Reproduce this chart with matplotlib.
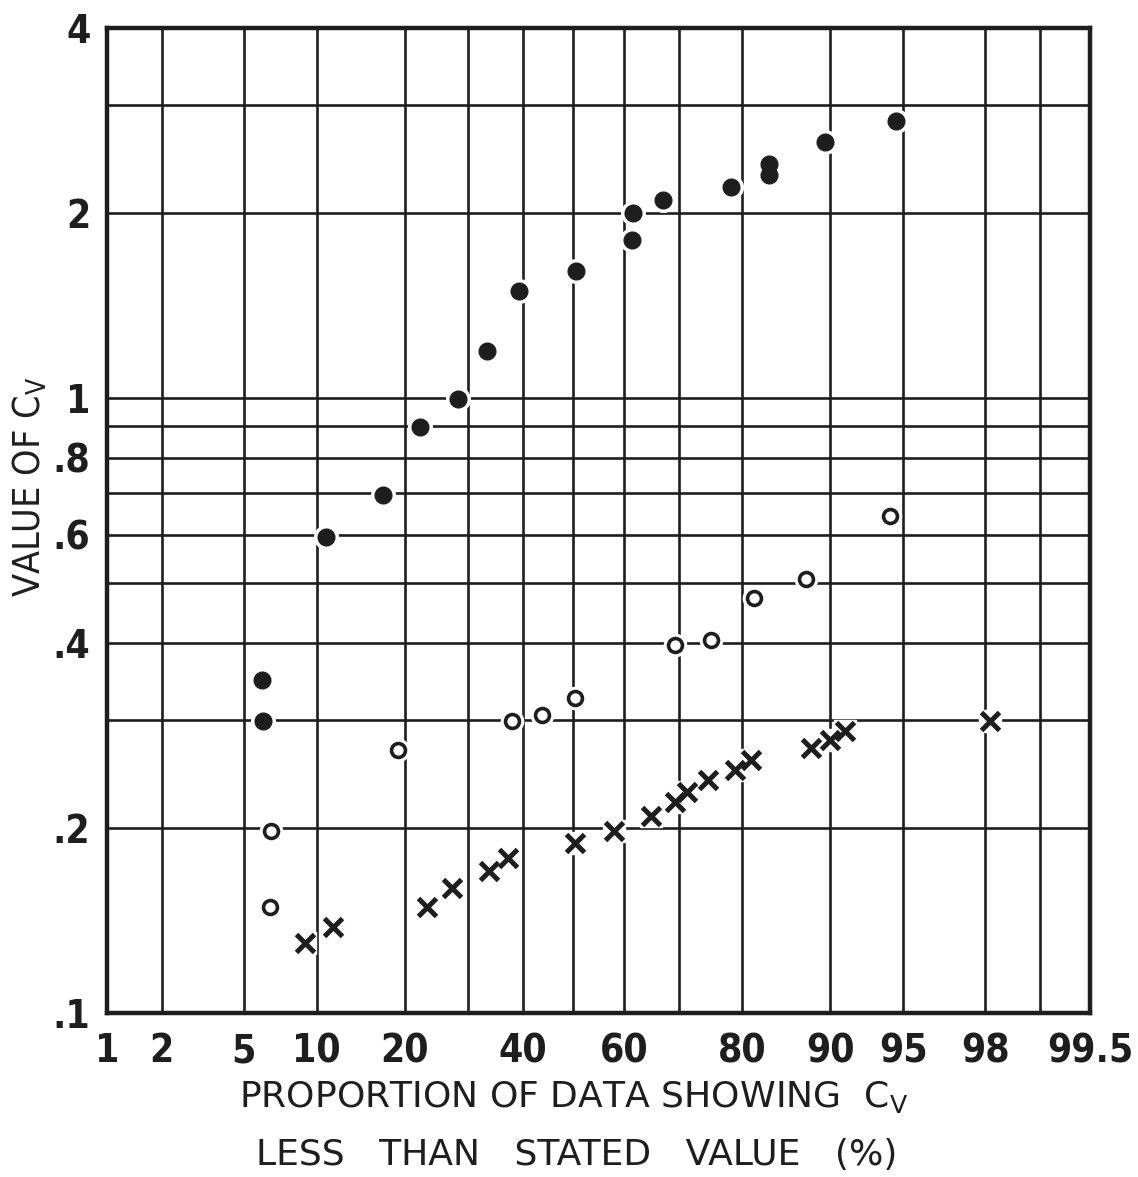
import numpy as np
import matplotlib
matplotlib.use("Agg")
import matplotlib.pyplot as plt
from statistics import NormalDist

# -------------------------------
# Data (percent, value of Cv)
# -------------------------------
filled_p = [6.0, 6.1, 10.9, 17.1, 22.2, 28.3, 33.3, 39.3, 50.5, 61.7, 61.5, 67.3, 78.4, 83.5, 83.5, 89.5, 94.6]
filled_cv = [0.348, 0.298, 0.594, 0.696, 0.898, 0.997, 1.193, 1.494, 1.61, 2.0, 1.808, 2.1, 2.205, 2.40, 2.306, 2.61, 2.82]

open_p = [6.6, 6.5, 19.1, 38.0, 43.8, 50.3, 69.4, 75.4, 81.6, 87.7, 94.3]
open_cv = [0.198, 0.149, 0.268, 0.298, 0.305, 0.325, 0.397, 0.404, 0.473, 0.508, 0.643]

cross_p = [9.0, 11.5, 23.3, 27.3, 33.7, 37.2, 50.3, 58.0, 65.1, 69.4, 71.5, 74.9, 79.0, 81.2, 88.2, 90.0, 91.2, 98.1]
cross_cv = [0.130, 0.138, 0.149, 0.160, 0.170, 0.179, 0.189, 0.198, 0.209, 0.220, 0.229, 0.239, 0.248, 0.258,
            0.270, 0.278, 0.288, 0.298]

x_ticks = [1, 2, 5, 10, 20, 40, 60, 80, 90, 95, 98, 99.5]
x_labels = ["1", "2", "5", "10", "20", "40", "60", "80", "90", "95", "98", "99.5"]
x_grid_extra = [30, 50, 70, 99]

y_ticks = [0.1, 0.2, 0.4, 0.6, 0.8, 1, 2, 4]
y_labels = [".1", ".2", ".4", ".6", ".8", "1", "2", "4"]
y_grid_extra = [0.3, 0.5, 0.7, 0.9, 3]

# -------------------------------
# Probability (normal) scale for x
# -------------------------------
nd = NormalDist()
_ppf = np.vectorize(lambda p: nd.inv_cdf(min(max(p / 100.0, 1e-9), 1 - 1e-9)))
_cdf = np.vectorize(lambda z: 100.0 * nd.cdf(z))


def fwd(p):
    return _ppf(np.asarray(p, dtype=float))


def inv(z):
    return _cdf(np.asarray(z, dtype=float))


plt.rcParams['mathtext.default'] = 'regular'
ink = '#1e1e1e'
fnt = ['DejaVu Sans']

fig = plt.figure(figsize=(11.38, 11.77), dpi=100)
ax = fig.add_axes([107 / 1138, 1 - 1013 / 1177, (1090 - 107) / 1138, (1013 - 28) / 1177])

ax.set_xscale('function', functions=(fwd, inv))
ax.set_yscale('log')
ax.set_xlim(1, 99.5)
ax.set_ylim(0.1, 4)

ax.set_xticks(x_ticks)
ax.set_xticklabels(x_labels)
ax.set_xticks(x_grid_extra, minor=True)
ax.set_yticks(y_ticks)
ax.set_yticklabels(y_labels)
ax.set_yticks(y_grid_extra, minor=True)
ax.yaxis.set_minor_formatter(matplotlib.ticker.NullFormatter())
ax.xaxis.set_minor_formatter(matplotlib.ticker.NullFormatter())

ax.grid(True, which='both', color=ink, linewidth=1.9, zorder=1)
ax.tick_params(axis='x', which='both', length=0, pad=14)
ax.tick_params(axis='y', which='both', length=0, pad=12)
for lab in ax.get_xticklabels() + ax.get_yticklabels():
    lab.set_family(fnt)
    lab.set_fontstretch('condensed')
    lab.set_fontweight('bold')
    lab.set_fontsize(28)
    lab.set_color(ink)

for s in ax.spines.values():
    s.set_linewidth(3.2)
    s.set_color(ink)

# white halos so grid lines break around the marks
ax.plot(filled_p, filled_cv, 'o', ms=17, color='white', zorder=3, clip_on=False)
ax.plot(open_p, open_cv, 'o', ms=16, color='white', zorder=3, clip_on=False)
ax.plot(cross_p, cross_cv, 's', ms=16, color='white', mec='white', zorder=3, clip_on=False)

ax.plot(filled_p, filled_cv, 'o', ms=12, color=ink, zorder=4)
ax.plot(open_p, open_cv, 'o', ms=10, mfc='white', mec=ink, mew=2.6, zorder=4)
ax.plot(cross_p, cross_cv, 'x', ms=12.5, mec=ink, mew=3.6, zorder=4)

txt = dict(ha='center', va='center', fontsize=26, family=fnt, color=ink)
fig.text(0.5 * (243 + 905) / 1138, 1 - 1097 / 1177, 'PROPORTION OF DATA SHOWING  C$_{V}$', **txt)
fig.text(0.5 * (245 + 908) / 1138, 1 - 1155 / 1177, 'LESS   THAN   STATED   VALUE   (%)', **txt)
fig.text(30 / 1138, 1 - 487 / 1177, 'VALUE OF C$_{V}$', rotation=90, fontstretch='condensed',
         **dict(txt, fontsize=27))

fig.savefig('out.png', dpi=100, facecolor='white')
